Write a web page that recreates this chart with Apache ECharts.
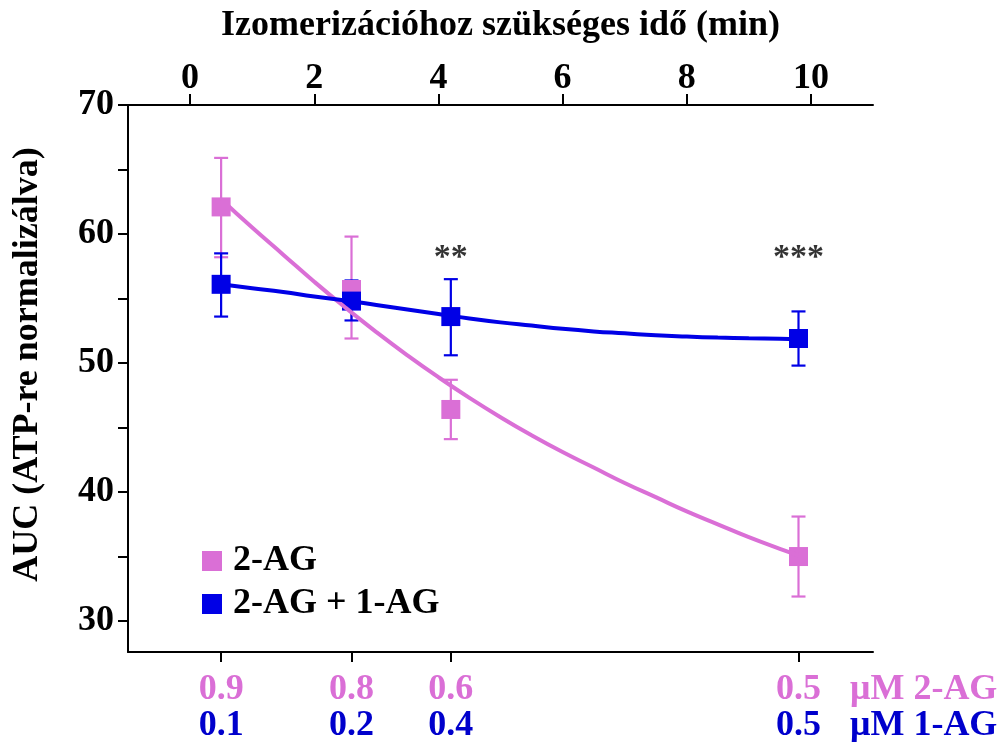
<!DOCTYPE html>
<html>
<head>
<meta charset="utf-8">
<script src="https://cdn.jsdelivr.net/npm/echarts@6/dist/echarts.min.js"></script>
<style>
html,body{margin:0;padding:0;background:#fff;}
#chart{width:1000px;height:742px;}
</style>
</head>
<body>
<div id="chart"></div>
<script>
// ---- data ----
const titleText = 'Izomerizációhoz szükséges idő (min)';
const yTitle = 'AUC (ATP-re normalizálva)';
const timeTicks = [0, 2, 4, 6, 8, 10];
const yLabelTicks = [30, 40, 50, 60, 70];
const yMinorTicks = [30, 35, 40, 45, 50, 55, 60, 65, 70];

const timeX = [0.5, 2.6, 4.2, 9.8];
const conc2AG = ['0.9', '0.8', '0.6', '0.5'];
const conc1AG = ['0.1', '0.2', '0.4', '0.5'];

const mean2AG = [62.1, 55.7, 46.4, 35.0];
const low2AG  = [58.2, 51.9, 44.1, 31.9];
const high2AG = [65.9, 59.8, 48.7, 38.1];

const meanMix = [56.1, 54.8, 53.6, 51.9];
const lowMix  = [53.6, 53.3, 50.6, 49.8];
const highMix = [58.5, 56.4, 56.5, 54.0];

// fitted curves
const fitX      = [0.5, 1.0, 1.5, 2.0, 2.5, 3.0, 3.5, 4.0, 4.5, 5.0, 5.5, 6.0, 6.5, 7.0, 7.5, 8.0, 8.5, 9.0, 9.5, 9.8];
const fit2AG    = [62.7, 60.5, 58.4, 56.3, 54.3, 52.4, 50.6, 48.9, 47.3, 45.8, 44.4, 43.1, 41.9, 40.7, 39.6, 38.5, 37.5, 36.5, 35.6, 35.1];
const fitMix    = [56.1, 55.8, 55.5, 55.15, 54.85, 54.5, 54.15, 53.8, 53.45, 53.15, 52.9, 52.65, 52.45, 52.3, 52.15, 52.05, 51.97, 51.92, 51.88, 51.85];

const sigX = [4.2, 9.8];
const sigY = [58.1, 58.1];
const sigText = ['**', '***'];

const name2AG = '2-AG';
const nameMix = '2-AG + 1-AG';
const unit2AG = 'μM 2-AG';
const unit1AG = 'μM 1-AG';

// ---- styles ----
const PINK = '#DA6FD6';
const BLUE = '#0000E6';
const BLUE_TXT = '#0000CC';
const FONT = '"Liberation Serif", "Times New Roman", serif';
const FS = 36;

const zip = (a, b) => a.map((v, i) => [v, b[i]]);
const zip3 = (a, b, c) => a.map((v, i) => [v, b[i], c[i]]);

function errRender(color) {
  return function (params, api) {
    const x = api.value(0);
    const p1 = api.coord([x, api.value(1)]);
    const p2 = api.coord([x, api.value(2)]);
    const hw = 7;
    const st = { stroke: color, lineWidth: 2.2 };
    return {
      type: 'group',
      children: [
        { type: 'line', shape: { x1: p1[0], y1: p1[1], x2: p2[0], y2: p2[1] }, style: st },
        { type: 'line', shape: { x1: p1[0] - hw, y1: p1[1], x2: p1[0] + hw, y2: p1[1] }, style: st },
        { type: 'line', shape: { x1: p2[0] - hw, y1: p2[1], x2: p2[0] + hw, y2: p2[1] }, style: st }
      ]
    };
  };
}

const chart = echarts.init(document.getElementById('chart'), null, { renderer: 'canvas' });

const axisLineStyle = { color: '#000', width: 2 };

const option = {
  backgroundColor: '#fff',
  animation: false,
  textStyle: { fontFamily: FONT },
  grid: { left: 128, right: 127, top: 105, bottom: 90, containLabel: false, outerBoundsMode: 'none' },
  legend: {
    data: [name2AG, nameMix],
    orient: 'vertical',
    left: 197,
    top: 537,
    itemWidth: 20,
    itemHeight: 20,
    itemGap: 5,
    icon: 'rect',
    selectedMode: false,
    textStyle: { fontFamily: FONT, fontWeight: 'bold', fontSize: FS, color: '#000', lineHeight: 38, padding: [0, 0, 0, 6] }
  },
  xAxis: [
    {
      type: 'value',
      position: 'top',
      min: -1,
      max: 11,
      name: titleText,
      nameLocation: 'middle',
      nameGap: 61,
      nameTextStyle: { fontFamily: FONT, fontWeight: 'bold', fontSize: FS, color: '#000' },
      axisLine: { show: true, onZero: false, lineStyle: axisLineStyle },
      axisTick: { show: true, length: 11, inside: false, customValues: timeTicks, lineStyle: axisLineStyle },
      axisLabel: { show: true, customValues: timeTicks, margin: 8, fontFamily: FONT, fontWeight: 'bold', fontSize: FS, color: '#000' },
      splitLine: { show: false }
    },
    {
      type: 'value',
      position: 'bottom',
      min: -1,
      max: 11,
      axisLine: { show: true, onZero: false, lineStyle: axisLineStyle },
      axisTick: { show: true, length: 10, inside: false, customValues: timeX, lineStyle: axisLineStyle },
      axisLabel: {
        show: true,
        customValues: timeX,
        margin: 20,
        formatter: function (v) {
          const i = timeX.indexOf(v);
          return '{p|' + conc2AG[i] + '}\n{b|' + conc1AG[i] + '}';
        },
        rich: {
          p: { fontFamily: FONT, fontWeight: 'bold', fontSize: FS, color: PINK, lineHeight: 36 },
          b: { fontFamily: FONT, fontWeight: 'bold', fontSize: FS, color: BLUE_TXT, lineHeight: 36 }
        }
      },
      splitLine: { show: false }
    }
  ],
  yAxis: {
    type: 'value',
    min: 27.6,
    max: 70,
    name: yTitle,
    nameLocation: 'middle',
    nameGap: 82,
    nameRotate: 90,
    nameTextStyle: { fontFamily: FONT, fontWeight: 'bold', fontSize: FS, color: '#000', padding: [0, 0, 0, 28] },
    axisLine: { show: true, onZero: false, lineStyle: axisLineStyle },
    axisTick: { show: true, length: 10, inside: false, customValues: yMinorTicks, lineStyle: axisLineStyle },
    axisLabel: { show: true, customValues: yLabelTicks, margin: 14, fontFamily: FONT, fontWeight: 'bold', fontSize: FS, color: '#000' },
    splitLine: { show: false }
  },
  series: [
    {
      name: 'fit2AG', type: 'line', xAxisIndex: 0, data: zip(fitX, fit2AG), smooth: true,
      showSymbol: false, lineStyle: { color: PINK, width: 4 }, silent: true
    },
    {
      name: 'err2AG', type: 'custom', xAxisIndex: 0, data: zip3(timeX, low2AG, high2AG),
      encode: { x: 0, y: [1, 2] }, renderItem: errRender(PINK), silent: true
    },
    {
      name: name2AG, type: 'scatter', xAxisIndex: 0, data: zip(timeX, mean2AG),
      symbol: 'rect', symbolSize: 19, itemStyle: { color: PINK, opacity: 1 }
    },
    {
      name: 'fitMix', type: 'line', xAxisIndex: 0, data: zip(fitX, fitMix), smooth: true,
      showSymbol: false, lineStyle: { color: BLUE, width: 4 }, silent: true
    },
    {
      name: 'errMix', type: 'custom', xAxisIndex: 0, data: zip3(timeX, lowMix, highMix),
      encode: { x: 0, y: [1, 2] }, renderItem: errRender(BLUE), silent: true
    },
    {
      name: nameMix, type: 'scatter', xAxisIndex: 0, data: zip(timeX, meanMix),
      symbol: 'rect', symbolSize: 19, itemStyle: { color: BLUE, opacity: 1 }
    },
    {
      name: 'sig', type: 'scatter', xAxisIndex: 0, data: zip(sigX, sigY),
      symbolSize: 0, silent: true,
      label: {
        show: true, position: 'inside',
        formatter: function (p) { return sigText[p.dataIndex]; },
        fontFamily: FONT, fontWeight: 'bold', fontSize: 34, color: '#000', textBorderWidth: 0
      }
    }
  ],
  graphic: [
    { type: 'text', left: 850, top: 672, style: { text: unit2AG, fontFamily: FONT, fontWeight: 'bold', fontSize: FS, fill: PINK } },
    { type: 'text', left: 850, top: 708, style: { text: unit1AG, fontFamily: FONT, fontWeight: 'bold', fontSize: FS, fill: BLUE_TXT } }
  ]
};

chart.setOption(option);
</script>
</body>
</html>
